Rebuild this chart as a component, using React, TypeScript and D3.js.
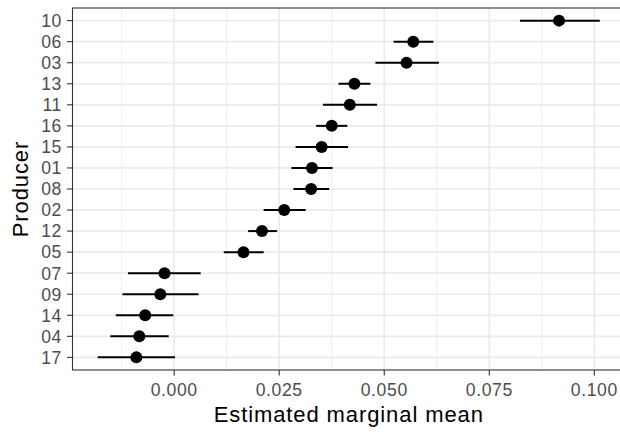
import React from "react";
import * as d3 from "d3";

const producers = ["10", "06", "03", "13", "11", "16", "15", "01", "08", "02", "12", "05", "07", "09", "14", "04", "17"];
const emmeans = [0.0916, 0.0569, 0.0553, 0.0429, 0.0418, 0.0375, 0.0351, 0.0328, 0.0326, 0.0262, 0.0209, 0.0165, -0.0023, -0.0033, -0.0069, -0.0083, -0.0090];
const lower = [0.0823, 0.0522, 0.0479, 0.0391, 0.0354, 0.0338, 0.0289, 0.0279, 0.0284, 0.0213, 0.0176, 0.0118, -0.0110, -0.0123, -0.0139, -0.0152, -0.0182];
const upper = [0.1013, 0.0617, 0.0630, 0.0467, 0.0483, 0.0412, 0.0414, 0.0377, 0.0369, 0.0313, 0.0245, 0.0213, 0.0063, 0.0058, -0.0002, -0.0013, 0.0002];
const xTicks = [0, 0.025, 0.05, 0.075, 0.1];
const xMinor = [-0.0125, 0.0125, 0.0375, 0.0625, 0.0875];

const W = 620;
const H = 432;
const panel = { left: 72.5, right: 625, top: 8, bottom: 370 };

export default function App() {
  const x = d3.scaleLinear().domain([-0.0242, 0.1073]).range([panel.left, panel.right]);
  const y = d3.scalePoint<string>().domain(producers).range([panel.top, panel.bottom]).padding(0.6);
  const fmt = d3.format(".3f");
  const font = "'Liberation Sans', Arial, Helvetica, sans-serif";
  const data = producers.map((p, i) => ({ p, m: emmeans[i], lo: lower[i], hi: upper[i] }));

  return (
    <svg width={W} height={H} style={{ position: "absolute", left: 0, top: 0, background: "#fff" }} fontFamily={font}>
      <rect x={0} y={0} width={W} height={H} fill="#fff" />
      <rect x={panel.left} y={panel.top} width={panel.right - panel.left} height={panel.bottom - panel.top} fill="#fff" />
      {xMinor.map((t) => (
        <line key={"mn" + t} x1={x(t)} x2={x(t)} y1={panel.top} y2={panel.bottom} stroke="#EBEBEB" strokeWidth={0.9} />
      ))}
      {xTicks.map((t) => (
        <line key={"mj" + t} x1={x(t)} x2={x(t)} y1={panel.top} y2={panel.bottom} stroke="#EBEBEB" strokeWidth={1.7} />
      ))}
      {producers.map((p) => (
        <line key={"hg" + p} x1={panel.left} x2={panel.right} y1={y(p)} y2={y(p)} stroke="#EBEBEB" strokeWidth={1.7} />
      ))}
      {data.map((d) => (
        <g key={"pt" + d.p}>
          <line x1={x(d.lo)} x2={x(d.hi)} y1={y(d.p)} y2={y(d.p)} stroke="#000" strokeWidth={2} />
          <circle cx={x(d.m)} cy={y(d.p)} r={6} fill="#000" />
        </g>
      ))}
      <rect x={panel.left} y={panel.top} width={panel.right - panel.left} height={panel.bottom - panel.top} fill="none" stroke="#333" strokeWidth={1.1} />
      {producers.map((p) => (
        <g key={"yt" + p}>
          <line x1={panel.left - 5.5} x2={panel.left} y1={y(p)} y2={y(p)} stroke="#333" strokeWidth={1.1} />
          <text x={panel.left - 10.5} y={y(p)} dy="0.36em" textAnchor="end" fontSize={17.6} letterSpacing={0.6} fill="#4D4D4D">{p}</text>
        </g>
      ))}
      {xTicks.map((t) => (
        <g key={"xt" + t}>
          <line x1={x(t)} x2={x(t)} y1={panel.bottom} y2={panel.bottom + 5.5} stroke="#333" strokeWidth={1.1} />
          <text x={x(t)} y={panel.bottom + 26} textAnchor="middle" fontSize={17.6} letterSpacing={0.6} fill="#4D4D4D">{fmt(t)}</text>
        </g>
      ))}
      <text x={(panel.left + panel.right) / 2} y={421.5} textAnchor="middle" fontSize={22} letterSpacing={0.9} fill="#000">Estimated marginal mean</text>
      <text transform={`translate(27.5,${(panel.top + panel.bottom) / 2}) rotate(-90)`} textAnchor="middle" fontSize={22} letterSpacing={0.9} fill="#000">Producer</text>
    </svg>
  );
}
